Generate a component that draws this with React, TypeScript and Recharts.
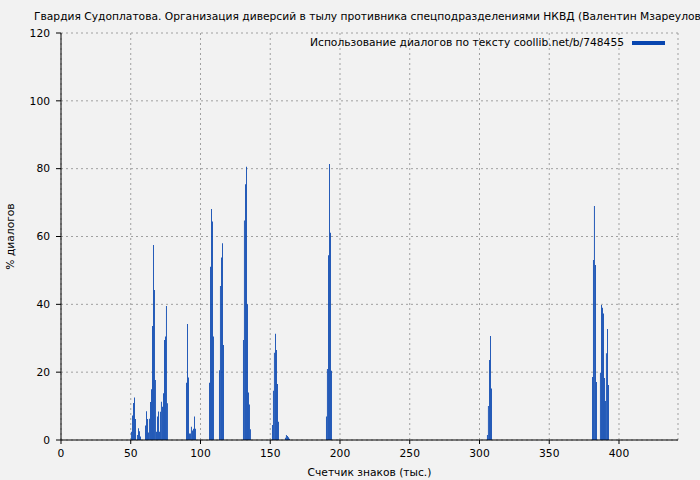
import React from 'react';
import { BarChart, Bar, XAxis, YAxis, CartesianGrid, Legend } from 'recharts';

const TITLE =
  'Гвардия Судоплатова. Организация диверсий в тылу противника спецподразделениями НКВД (Валентин Мзареулов)';
const SERIES_NAME = 'Использование диалогов по тексту coollib.net/b/748455';
const X_LABEL = 'Счетчик знаков (тыс.)';
const Y_LABEL = '% диалогов';
const X_TICKS = [0, 50, 100, 150, 200, 250, 300, 350, 400];
const Y_TICKS = [0, 20, 40, 60, 80, 100, 120];
const X_MAX = 442.3;

// position in text (thousands of characters) -> % of dialogues
const clusterA: [number, number][] = [
  [50.5, 2.4], [51.3, 7.2], [52.0, 10.9], [52.7, 12.5], [53.4, 6.2],
  [54.8, 1.5], [55.6, 3.5], [56.3, 2.6], [57.0, 1.0],
];
const clusterB: [number, number][] = [
  [60.6, 4.3], [61.3, 8.5], [62.0, 6.2], [62.7, 2.2], [63.4, 6.3], [64.2, 11.2],
  [64.9, 15.0], [65.6, 33.6], [66.3, 57.5], [67.0, 44.2], [67.7, 17.7], [68.5, 2.4],
  [69.2, 6.9], [69.9, 8.4], [70.6, 2.4], [71.3, 8.3], [72.0, 11.3], [72.8, 9.8],
  [73.5, 13.8], [74.2, 29.5], [74.9, 30.5], [75.6, 39.5], [76.3, 10.8],
];
const clusterC: [number, number][] = [
  [90.0, 16.9], [90.7, 34.2], [91.4, 18.4], [92.1, 1.9], [92.8, 1.9],
  [93.5, 3.9], [94.3, 2.8], [95.0, 3.3], [95.7, 6.9], [96.4, 3.3],
];
const clusterD: [number, number][] = [
  [106.5, 16.9], [107.2, 51.1], [107.9, 68.1], [108.6, 64.4], [109.3, 30.5],
  [113.6, 20.6], [114.3, 45.4], [115.1, 53.8], [115.8, 58.0], [116.5, 28.0],
];
const clusterE: [number, number][] = [
  [130.8, 29.5], [131.5, 64.7], [132.3, 75.4], [133.0, 80.6], [133.7, 40.0],
  [134.4, 14.0], [135.1, 10.5], [135.8, 3.2],
];
const clusterF: [number, number][] = [
  [151.6, 4.4], [152.3, 14.5], [153.0, 25.7], [153.8, 31.3], [154.5, 26.5],
  [155.2, 16.5], [155.9, 5.4], [160.9, 0.7], [161.6, 1.5], [162.4, 1.2],
  [163.1, 0.8], [163.8, 0.4],
];
const clusterG: [number, number][] = [
  [190.3, 6.9], [191.0, 20.9], [191.8, 54.5], [192.5, 81.4], [193.2, 61.1], [193.9, 20.4],
];
const clusterH: [number, number][] = [
  [305.7, 1.5], [306.4, 10.0], [307.2, 23.6], [307.9, 30.7], [308.6, 15.2],
];
const clusterI: [number, number][] = [
  [381.0, 18.6], [381.7, 53.1], [382.4, 69.0], [383.2, 51.6], [383.9, 17.1],
  [386.7, 19.8], [387.5, 39.8], [388.2, 39.0], [388.9, 37.3], [389.6, 18.3],
  [390.3, 11.5], [391.0, 25.6], [391.8, 32.7], [392.5, 16.2],
];

const data = [
  ...clusterA, ...clusterB, ...clusterC, ...clusterD, ...clusterE,
  ...clusterF, ...clusterG, ...clusterH, ...clusterI,
].map(([x, y]) => ({ x, y }));

const FONT = '"DejaVu Sans", sans-serif';
const FS = 10.7;
const BLUE = '#0846b0';
const W = 700;
const H = 480;

export default function App() {
  return (
    <div
      style={{
        position: 'absolute',
        left: 0,
        top: 0,
        width: W,
        height: H,
        background: '#f2f2f2',
        overflow: 'hidden',
        fontFamily: FONT,
      }}
    >
      <div
        style={{
          position: 'absolute',
          left: 369.5,
          top: 10,
          transform: 'translateX(-50%)',
          whiteSpace: 'nowrap',
          fontSize: FS,
          color: '#000',
          lineHeight: '14px',
        }}
      >
        {TITLE}
      </div>
      <BarChart
        width={W}
        height={H}
        data={data}
        margin={{ top: 33, right: 22, left: 0, bottom: 0 }}
        barCategoryGap={0}
        barGap={0}
        style={{ fontFamily: FONT }}
      >
        <CartesianGrid stroke="#a0a0a0" strokeDasharray="2 3" />
        <XAxis
          dataKey="x"
          type="number"
          domain={[0, X_MAX]}
          ticks={X_TICKS}
          allowDecimals={false}
          height={40}
          tickSize={4}
          tickMargin={5}
          stroke="#000"
          tick={{ fill: '#000', fontSize: FS, fontFamily: FONT }}
          label={{
            value: X_LABEL,
            position: 'insideBottom',
            offset: 4,
            fill: '#000',
            fontSize: FS,
            fontFamily: FONT,
          }}
        />
        <XAxis
          xAxisId="top"
          dataKey="x"
          type="number"
          orientation="top"
          domain={[0, X_MAX]}
          height={0}
          tick={false}
          tickLine={false}
          stroke="#000"
        />
        <YAxis
          type="number"
          domain={[0, 120]}
          ticks={Y_TICKS}
          width={61}
          tickSize={5}
          tickMargin={6}
          stroke="#000"
          tick={{ fill: '#000', fontSize: FS, fontFamily: FONT }}
          label={{
            value: Y_LABEL,
            angle: -90,
            position: 'insideLeft',
            offset: 10,
            fill: '#000',
            fontSize: FS,
            fontFamily: FONT,
            style: { textAnchor: 'middle' },
          }}
        />
        <YAxis
          yAxisId="right"
          orientation="right"
          domain={[0, 120]}
          width={0}
          tick={false}
          tickLine={false}
          stroke="#000"
        />
        <Legend
          layout="horizontal"
          verticalAlign="middle"
          align="center"
          wrapperStyle={{ top: 36, right: 35, left: 'auto', width: 'auto', height: 'auto' }}
          content={() => (
            <div
              style={{
                display: 'flex',
                alignItems: 'center',
                whiteSpace: 'nowrap',
                fontFamily: FONT,
                fontSize: FS,
                color: '#000',
                lineHeight: '14px',
              }}
            >
              <span>{SERIES_NAME}</span>
              <span
                style={{
                  display: 'inline-block',
                  width: 33,
                  height: 4,
                  background: BLUE,
                  marginLeft: 8,
                }}
              />
            </div>
          )}
        />
        <Bar
          dataKey="y"
          name={SERIES_NAME}
          fill={BLUE}
          barSize={1.4}
          isAnimationActive={false}
        />
      </BarChart>
    </div>
  );
}
